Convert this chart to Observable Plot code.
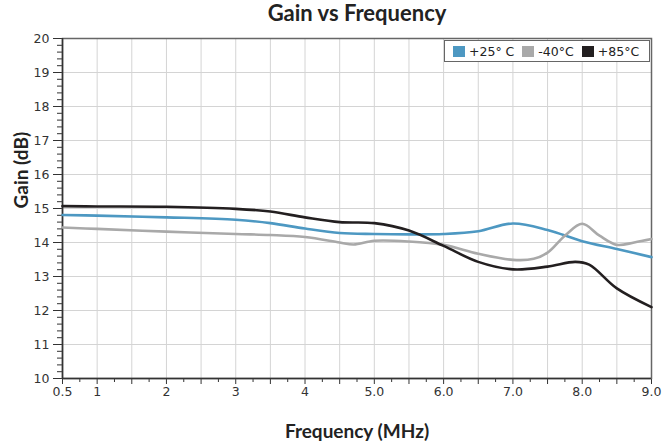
<!DOCTYPE html>
<html>
<head>
<meta charset="utf-8">
<script src="https://cdn.jsdelivr.net/npm/d3@7"></script>
<script src="https://cdn.jsdelivr.net/npm/@observablehq/plot@0.6"></script>
<style>
  html, body { margin: 0; padding: 0; background: #fff; }
  #wrap { position: relative; width: 663px; height: 444px; overflow: hidden; }
  #legend { position: absolute; left: 444px; top: 40px; width: 204px; height: 20px;
    border: 1.5px solid #666; background: #fff; display: flex; align-items: center;
    font-family: "DejaVu Sans", sans-serif; font-size: 12.5px; color: #222; box-sizing: content-box; }
  #legend .it { display: flex; align-items: center; margin-left: 8px; }
  #legend .sw { width: 12px; height: 11px; margin-right: 4px; }
</style>
</head>
<body>
<div id="wrap"></div>
<script>
const titleText = "Gain vs Frequency";
const xLabel = "Frequency (MHz)";
const yLabel = "Gain (dB)";

const seriesNames = ["+25° C", "-40°C", "+85°C"];
const seriesColors = ["#4d98c2", "#a9a9a9", "#231f20"];

const freq25 = [0.5, 1, 2, 3, 3.5, 4, 4.5, 5, 5.5, 6, 6.5, 7, 7.5, 8, 8.5, 9];
const gain25 = [14.81, 14.79, 14.74, 14.67, 14.57, 14.41, 14.28, 14.25, 14.24, 14.25, 14.33, 14.56, 14.37, 14.04, 13.81, 13.57];

const freqM40 = [0.5, 1, 2, 3, 3.5, 4, 4.5, 4.7, 5, 5.5, 6, 6.5, 7, 7.3, 7.5, 7.75, 8, 8.25, 8.5, 8.75, 9];
const gainM40 = [14.44, 14.40, 14.32, 14.25, 14.22, 14.16, 14.0, 13.94, 14.05, 14.03, 13.93, 13.67, 13.49, 13.52, 13.7, 14.2, 14.55, 14.2, 13.93, 14.0, 14.1];

const freq85 = [0.5, 1, 2, 3, 3.5, 4, 4.5, 5, 5.5, 6, 6.5, 7, 7.5, 7.9, 8.1, 8.5, 9];
const gain85 = [15.07, 15.06, 15.05, 14.99, 14.91, 14.74, 14.6, 14.57, 14.35, 13.9, 13.43, 13.21, 13.29, 13.43, 13.35, 12.65, 12.1];

const xTickValues = [0.5, 1, 2, 3, 4, 5, 6, 7, 8, 9];
const xTickLabels = ["0.5", "1", "2", "3", "4", "5.0", "6.0", "7.0", "8.0", "9.0"];
const yTickValues = [10, 11, 12, 13, 14, 15, 16, 17, 18, 19, 20];

const mk = (xs, ys, name) => xs.map((x, i) => ({x, y: ys[i], s: name}));
const data = [
  ...mk(freq25, gain25, seriesNames[0]),
  ...mk(freqM40, gainM40, seriesNames[1]),
  ...mk(freq85, gain85, seriesNames[2])
];

const labelMap = new Map(xTickValues.map((v, i) => [v, xTickLabels[i]]));
const majorX = d3.range(0.5, 9.001, 0.5);
const minorX = d3.range(0.75, 9, 0.5);
const minorY = d3.range(10, 20.001, 0.2).map(v => Math.round(v * 10) / 10);

const tickFont = "DejaVu Sans, sans-serif";

const chart = Plot.plot({
  width: 663,
  height: 444,
  marginTop: 38,
  marginBottom: 66,
  marginLeft: 62,
  marginRight: 12,
  style: {fontFamily: tickFont, fontSize: "12.5px", color: "#333", background: "#fff"},
  x: {domain: [0.5, 9], type: "linear"},
  y: {domain: [10, 20]},
  color: {domain: seriesNames, range: seriesColors},
  marks: [
    Plot.gridX(d3.range(1, 9, 0.5), {stroke: "#d4d4d4", strokeOpacity: 1, strokeWidth: 1}),
    Plot.gridY(d3.range(11, 20), {stroke: "#d4d4d4", strokeOpacity: 1, strokeWidth: 1}),
    Plot.axisX(minorX, {tickSize: 4, tickFormat: () => "", stroke: "#333", label: null}),
    Plot.axisX(majorX, {tickSize: 6, tickPadding: 3, stroke: "#333", label: null,
      tickFormat: d => labelMap.get(Math.round(d * 100) / 100) ?? "", fill: "#333"}),
    Plot.axisY(minorY, {tickSize: 5, tickFormat: () => "", stroke: "#333", label: null}),
    Plot.axisY(yTickValues, {tickSize: 9, tickPadding: 4, stroke: "#333", label: null, fill: "#333"}),
    Plot.frame({stroke: "#666", strokeWidth: 1.5}),
    Plot.ruleX([0.5], {stroke: "#333", strokeWidth: 1.5}),
    Plot.ruleY([10], {stroke: "#333", strokeWidth: 1.5}),
    Plot.line(data, {x: "x", y: "y", stroke: "s", z: "s", curve: "catmull-rom", strokeWidth: 2.6}),
    Plot.text([titleText], {frameAnchor: "top", dy: -25, fontSize: 22, fontWeight: "bold",
      fontFamily: "Lato, sans-serif", fill: "#222", lineAnchor: "middle"}),
    Plot.text([xLabel], {frameAnchor: "bottom", dy: 53, fontSize: 19, fontWeight: "bold",
      fontFamily: "Lato, sans-serif", fill: "#222", lineAnchor: "middle"}),
    Plot.text([yLabel], {frameAnchor: "left", dx: -41, rotate: -90, fontSize: 19, fontWeight: "bold",
      fontFamily: "Lato, sans-serif", fill: "#222", lineAnchor: "middle"})
  ]
});

const wrap = document.getElementById("wrap");
wrap.appendChild(chart);

const legend = document.createElement("div");
legend.id = "legend";
seriesNames.forEach((n, i) => {
  const it = document.createElement("div");
  it.className = "it";
  const sw = document.createElement("div");
  sw.className = "sw";
  sw.style.background = seriesColors[i];
  const t = document.createElement("span");
  t.textContent = n;
  it.appendChild(sw);
  it.appendChild(t);
  legend.appendChild(it);
});
wrap.appendChild(legend);
</script>
</body>
</html>
